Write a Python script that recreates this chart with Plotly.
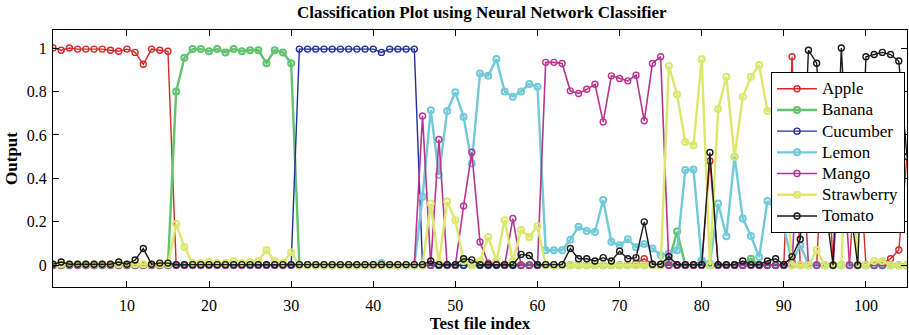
import plotly.graph_objects as go

idx = list(range(1, 106))

apple = [1.0, 0.99, 1.0, 0.995, 0.995, 0.995, 0.995, 0.99, 0.985, 0.995, 0.98, 0.925, 0.995, 0.99, 0.985,
         0, 0, 0, 0, 0, 0, 0, 0, 0, 0, 0, 0, 0, 0, 0,
         0, 0, 0, 0, 0, 0, 0, 0, 0, 0, 0, 0, 0, 0, 0,
         0, 0, 0, 0, 0, 0, 0, 0, 0, 0, 0, 0, 0, 0, 0,
         0, 0, 0, 0, 0, 0, 0, 0, 0, 0, 0, 0.01, 0.03, 0.005, 0,
         0, 0, 0, 0, 0, 0.48, 0, 0, 0, 0, 0, 0, 0, 0, 0,
         0.96, 0, 0, 0, 0.75, 0, 0, 0, 0.62, 0, 0, 0.01, 0.03, 0.07, 0.5]

banana = [0, 0, 0, 0, 0, 0, 0, 0, 0, 0, 0, 0, 0, 0, 0,
          0.80, 0.955, 0.995, 0.995, 0.985, 0.995, 0.98, 0.995, 0.985, 0.99, 0.99, 0.93, 0.99, 0.98, 0.93,
          0, 0, 0, 0, 0, 0, 0, 0, 0, 0, 0, 0, 0, 0, 0,
          0, 0, 0, 0, 0, 0, 0, 0, 0, 0, 0, 0, 0, 0, 0,
          0, 0, 0, 0, 0, 0, 0, 0, 0, 0, 0, 0, 0, 0, 0,
          0.02, 0.155, 0, 0, 0.02, 0, 0, 0, 0, 0, 0.03, 0, 0, 0, 0,
          0, 0, 0, 0, 0, 0, 0, 0, 0, 0, 0, 0, 0, 0, 0]

cucumber = [0, 0, 0, 0, 0, 0, 0, 0, 0, 0, 0, 0, 0, 0, 0,
            0, 0, 0, 0, 0, 0, 0, 0, 0, 0, 0, 0, 0, 0, 0,
            0.995, 0.995, 0.995, 0.995, 0.995, 0.995, 0.995, 0.995, 0.995, 0.995, 0.98, 0.995, 0.995, 0.995, 0.995,
            0, 0, 0, 0, 0, 0, 0, 0, 0, 0, 0, 0, 0, 0, 0,
            0, 0, 0, 0, 0, 0, 0, 0, 0, 0, 0, 0, 0, 0, 0,
            0, 0, 0, 0, 0, 0, 0, 0, 0, 0, 0, 0, 0, 0, 0,
            0, 0, 0, 0, 0, 0, 0, 0, 0, 0, 0, 0, 0, 0, 0]

lemon = [0, 0, 0, 0, 0, 0, 0, 0, 0, 0, 0, 0, 0, 0, 0,
         0, 0, 0, 0, 0, 0, 0, 0, 0, 0, 0, 0, 0, 0, 0,
         0, 0, 0, 0, 0, 0, 0, 0, 0, 0, 0.01, 0, 0, 0, 0,
         0.315, 0.714, 0.415, 0.71, 0.796, 0.683, 0.469, 0.883, 0.872, 0.949, 0.80, 0.776, 0.80, 0.834, 0.822,
         0.069, 0.069, 0.069, 0.118, 0.177, 0.158, 0.153, 0.30, 0.108, 0.092, 0.12, 0.083, 0.098, 0.077, 0.046,
         0.054, 0.069, 0.438, 0.441, 0.023, 0.008, 0.284, 0.134, 0.50, 0.215, 0.135, 0.038, 0.296, 0.254, 0.174,
         0.015, 0.092, 0.005, 0, 0, 0, 0, 0, 0, 0, 0, 0, 0, 0, 0]

mango = [0, 0, 0, 0, 0, 0, 0, 0, 0, 0, 0, 0, 0, 0, 0,
         0, 0, 0, 0, 0, 0, 0, 0, 0, 0, 0, 0, 0, 0, 0,
         0, 0, 0, 0, 0, 0, 0, 0, 0, 0, 0, 0, 0, 0, 0,
         0.687, 0, 0.579, 0, 0, 0.273, 0.52, 0.107, 0.01, 0.01, 0, 0.215, 0, 0, 0,
         0.934, 0.934, 0.929, 0.803, 0.791, 0.81, 0.833, 0.66, 0.872, 0.86, 0.849, 0.875, 0.665, 0.929, 0.96,
         0, 0, 0, 0, 0, 0, 0, 0, 0, 0, 0, 0, 0, 0, 0,
         0.01, 0.7, 0, 0, 0, 0, 0.6, 0, 0, 0, 0, 0, 0, 0, 0]

strawberry = [0.005, 0.005, 0.005, 0.005, 0.005, 0.005, 0.005, 0.005, 0.005, 0.005, 0.005, 0.005, 0.005, 0.005, 0.005,
              0.19, 0.084, 0.01, 0.01, 0.015, 0.01, 0.01, 0.02, 0.01, 0.015, 0.02, 0.07, 0.02, 0.01, 0.06,
              0, 0, 0, 0, 0, 0, 0, 0, 0, 0, 0, 0, 0, 0, 0,
              0, 0.284, 0.01, 0.293, 0.207, 0.02, 0, 0.02, 0.13, 0.02, 0.207, 0.02, 0.162, 0.13, 0.18,
              0, 0, 0, 0, 0, 0, 0, 0, 0, 0, 0, 0, 0, 0, 0,
              0.917, 0.786, 0.568, 0.553, 0.948, 0, 0.719, 0.868, 0.50, 0.776, 0.868, 0.922, 0.71, 0.714, 0.55,
              0, 0, 0, 0.07, 0, 0, 0, 0.8, 0, 0, 0.02, 0.02, 0, 0, 0]

tomato = [0.005, 0.015, 0.005, 0.005, 0.005, 0.005, 0.005, 0.005, 0.015, 0.005, 0.024, 0.077, 0.005, 0.01, 0.01,
          0.003, 0.003, 0.003, 0.003, 0.003, 0.003, 0.003, 0.003, 0.003, 0.003, 0.003, 0.003, 0.003, 0.003, 0.003,
          0.003, 0.003, 0.003, 0.003, 0.003, 0.003, 0.003, 0.003, 0.003, 0.003, 0.003, 0.003, 0.003, 0.003, 0.003,
          0.003, 0.02, 0.003, 0.003, 0.003, 0.03, 0.025, 0.003, 0.003, 0.003, 0.003, 0.003, 0.05, 0.045, 0.003,
          0.003, 0.003, 0.003, 0.077, 0.03, 0.03, 0.02, 0.035, 0.02, 0.065, 0.03, 0.035, 0.2, 0.005, 0.005,
          0.04, 0.003, 0.003, 0.003, 0.003, 0.519, 0.003, 0.003, 0.003, 0.02, 0.003, 0.003, 0.02, 0.03, 0.003,
          0.04, 0.12, 0.99, 0.93, 0.3, 0.0, 1.0, 0.3, 0.0, 0.96, 0.97, 0.98, 0.97, 0.94, 0.5]

names = ["Apple", "Banana", "Cucumber", "Lemon", "Mango", "Strawberry", "Tomato"]
series = [apple, banana, cucumber, lemon, mango, strawberry, tomato]
colors = ["#d42a2a", "#62c26e", "#1f2fa0", "#72c9d8", "#b8358f", "#dbe86c", "#1a1a1a"]
widths = [1.4, 2.4, 1.4, 2.4, 1.6, 2.4, 1.4]

fig = go.Figure()
for n, s, c, w in zip(names, series, colors, widths):
    fig.add_trace(go.Scatter(
        x=idx, y=s, name='<span style="font-size:17px">' + n + '</span>', mode="lines+markers",
        line=dict(color=c, width=w),
        marker=dict(symbol="circle-open", size=6, color=c, line=dict(width=1.4 if w < 2 else 2, color=c)),
    ))

serif = "Liberation Serif, Times New Roman, serif"
fig.update_layout(
    width=909, height=335,
    margin=dict(l=53, r=2, t=30, b=48),
    paper_bgcolor="white", plot_bgcolor="white",
    font=dict(family=serif, size=16, color="black"),
    title=dict(text="<b>Classification Plot using Neural Network Classifier</b>",
               x=0.53, xanchor="center", y=0.965, yanchor="middle",
               font=dict(family=serif, size=17, color="black")),
    showlegend=True,
    legend=dict(x=0.9977, xanchor="right", y=0.836, yanchor="top",
                bgcolor="white", bordercolor="black", borderwidth=1,
                font=dict(family=serif, size=14), tracegroupgap=0, itemwidth=40),
)
fig.update_xaxes(range=[1, 105], tickvals=[10, 20, 30, 40, 50, 60, 70, 80, 90, 100],
                 ticks="inside", ticklen=6, tickcolor="black", showgrid=False, zeroline=False,
                 showline=True, linecolor="black", linewidth=1, mirror="ticks",
                 ticklabelstandoff=4,
                 title=dict(text="<b>Test file index</b>", font=dict(family=serif, size=17), standoff=2),
                 tickfont=dict(family=serif, size=16))
fig.update_yaxes(range=[-0.1, 1.083], tickvals=[0, 0.2, 0.4, 0.6, 0.8, 1],
                 ticktext=["0", "0.2", "0.4", "0.6", "0.8", "1"],
                 ticks="inside", ticklen=6, tickcolor="black", showgrid=False, zeroline=False,
                 showline=True, linecolor="black", linewidth=1, mirror="ticks",
                 ticklabelstandoff=2,
                 title=dict(text="<b>Output</b>", font=dict(family=serif, size=17), standoff=4),
                 tickfont=dict(family=serif, size=16))

fig.write_html("out.html")
